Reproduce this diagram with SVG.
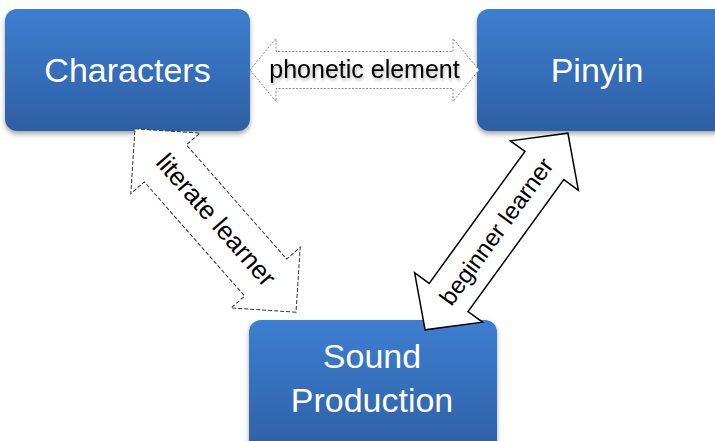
<svg xmlns="http://www.w3.org/2000/svg" width="715" height="441" viewBox="0 0 715 441">
  <defs>
    <linearGradient id="boxFill" x1="0" y1="0" x2="0" y2="1">
      <stop offset="0" stop-color="#3d7ed0"/>
      <stop offset="1" stop-color="#2e5fa4"/>
    </linearGradient>
    <filter id="boxShadow" x="-10%" y="-10%" width="120%" height="130%">
      <feDropShadow dx="0" dy="3" stdDeviation="2.5" flood-color="#000" flood-opacity="0.35"/>
    </filter>
    <filter id="textShadow" x="-10%" y="-30%" width="120%" height="160%">
      <feDropShadow dx="1" dy="2" stdDeviation="1.5" flood-color="#000" flood-opacity="0.3"/>
    </filter>
  </defs>
  <style>
    .box { fill: url(#boxFill); filter: url(#boxShadow); }
    .boxLabel { font-family: "Liberation Sans", Arial, sans-serif; font-size: 34px; fill: #ffffff; text-anchor: middle; }
    .arrowLabel { font-family: "Liberation Sans", Arial, sans-serif; font-size: 25px; fill: #000000; text-anchor: middle; }
    .shadowed { filter: url(#textShadow); }
    .arrowBody { fill: #ffffff; stroke-linejoin: miter; }
  </style>

  <rect width="715" height="441" fill="#ffffff"/>

  <g id="characters">
    <rect class="box" x="5" y="9" width="245" height="122" rx="12"/>
    <text class="boxLabel" x="127.5" y="82">Characters</text>
  </g>

  <g id="pinyin">
    <rect class="box" x="477" y="9" width="250" height="122" rx="12"/>
    <text class="boxLabel" x="597" y="82">Pinyin</text>
  </g>

  <g id="sound-production">
    <rect class="box" x="249" y="320" width="248" height="135" rx="12"/>
    <text class="boxLabel" x="372" y="368">Sound</text>
    <text class="boxLabel" x="372" y="412">Production</text>
  </g>

  <g id="connectors">
    <!-- Characters <-> Pinyin -->
    <g transform="translate(364.5,70)">
      <polygon class="arrowBody" stroke="#8a8a8a" stroke-width="1" stroke-dasharray="2,1.5"
        points="-114.5,0 -88.5,-31.5 -88.5,-18.5 88.5,-18.5 88.5,-31.5 114.5,0 88.5,31.5 88.5,18.5 -88.5,18.5 -88.5,31.5"/>
      <text class="arrowLabel shadowed" x="0" y="8">phonetic element</text>
    </g>
    <!-- Characters <-> Sound Production -->
    <g transform="translate(215.5,220.5) rotate(48.7)">
      <polygon class="arrowBody" stroke="#333333" stroke-width="1" stroke-dasharray="4,2"
        points="-122,0 -76,-46 -76,-28 76,-28 76,-46 122,0 76,46 76,28 -76,28 -76,46"/>
      <text class="arrowLabel" x="0" y="8" style="font-size:26px">literate learner</text>
    </g>
    <!-- Sound Production <-> Pinyin -->
    <g transform="translate(496.5,231.5) rotate(-54)">
      <polygon class="arrowBody" stroke="#000000" stroke-width="1.5"
        points="-121.5,0 -81.5,-42 -81.5,-24 81.5,-24 81.5,-42 121.5,0 81.5,42 81.5,24 -81.5,24 -81.5,42"/>
      <text class="arrowLabel" x="0" y="8" style="font-size:24px">beginner learner</text>
    </g>
  </g>
</svg>
